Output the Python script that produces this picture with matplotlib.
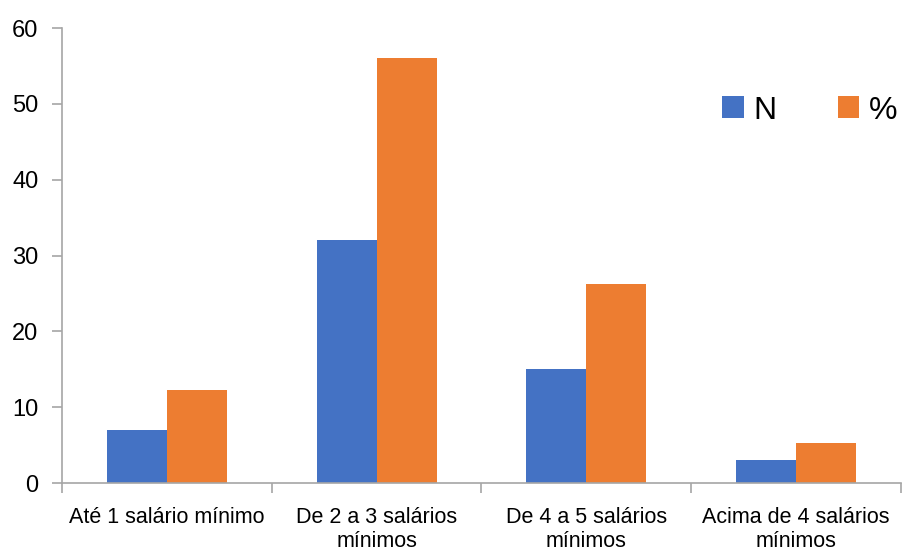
import numpy as np
import matplotlib.pyplot as plt

# data
categories = ["Até 1 salário mínimo", "De 2 a 3 salários\nmínimos",
              "De 4 a 5 salários\nmínimos", "Acima de 4 salários\nmínimos"]
n_values = [7, 32, 15, 3]
pct_values = [12.3, 56.1, 26.3, 5.3]

plt.rcParams['font.family'] = ['Liberation Sans', 'DejaVu Sans']

fig = plt.figure(figsize=(9.04, 5.52), dpi=100)
ax = fig.add_axes([0.0686, 0.125, 0.928, 0.824])

x = np.arange(len(categories))
w = 0.286
ax.bar(x - w / 2, n_values, w, color="#4472C4", label="N")
ax.bar(x + w / 2, pct_values, w, color="#ED7D31", label="%")

ax.set_xlim(-0.5, len(categories) - 0.5)
ax.set_ylim(0, 60)
ax.set_yticks(range(0, 61, 10))
ax.set_xticks(x)
ax.set_xticklabels(categories, linespacing=1.2)
ax.set_xticks(np.arange(-0.5, len(categories), 1), minor=True)

for s in ["top", "right"]:
    ax.spines[s].set_visible(False)
for s in ["left", "bottom"]:
    ax.spines[s].set_color("#A6A6A6")
    ax.spines[s].set_linewidth(1.2)

ax.tick_params(axis="y", labelsize=17, color="#A6A6A6", length=7, width=1.2, pad=10)
ax.tick_params(axis="x", which="major", length=0, labelsize=15.5, pad=17)
ax.tick_params(axis="x", which="minor", length=7, width=1.2, color="#A6A6A6")

ax.legend(loc="upper right", bbox_to_anchor=(1.03, 0.915), ncol=2, frameon=False,
          fontsize=23, handlelength=0.68, handleheight=0.68, handletextpad=0.3,
          columnspacing=1.9)

fig.savefig("out.png", dpi=100)
